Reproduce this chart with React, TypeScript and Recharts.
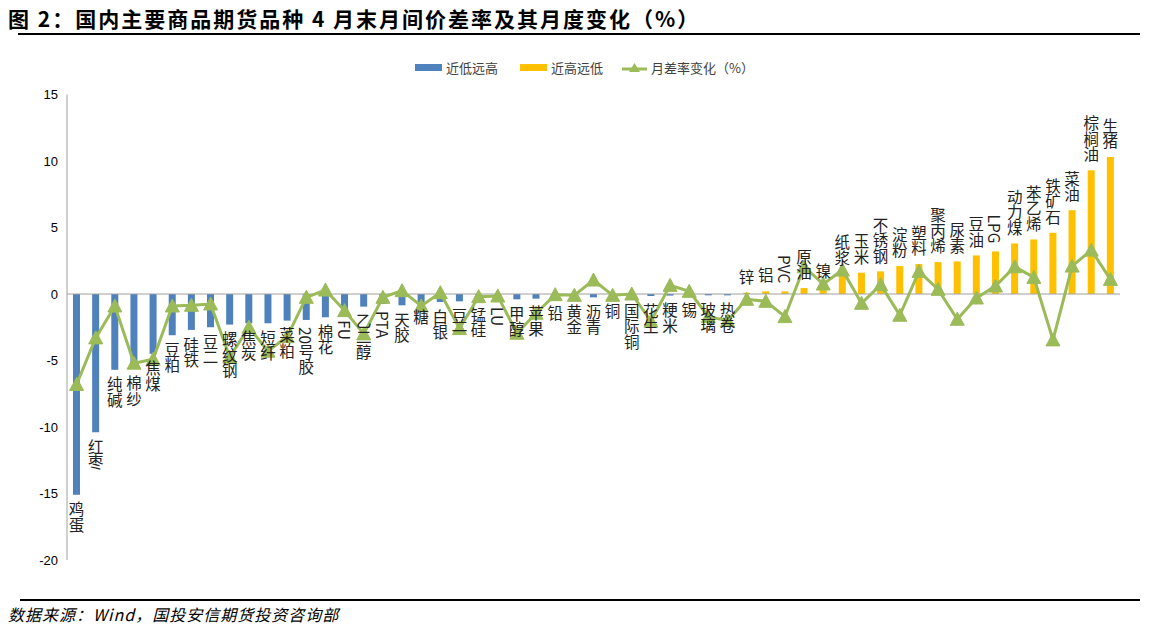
import React from 'react';
import {
  ComposedChart,
  Bar,
  Line,
  XAxis,
  YAxis,
  Legend,
  LabelList,
  ReferenceLine,
} from 'recharts';

const categories = [
  '鸡蛋', '红枣', '纯碱', '棉纱', '焦煤', '豆粕', '硅铁', '豆二', '螺纹钢', '焦炭',
  '短纤', '菜粕', '20号胶', '棉花', 'FU', '乙二醇', 'PTA', '天胶', '糖', '白银',
  '豆一', '锰硅', 'LU', '甲醇', '苹果', '铅', '黄金', '沥青', '铜', '国际铜',
  '花生', '粳米', '锡', '玻璃', '热卷', '锌', '铝', 'PVC', '原油', '镍',
  '纸浆', '玉米', '不锈钢', '淀粉', '塑料', '聚丙烯', '尿素', '豆油', 'LPG', '动力煤',
  '苯乙烯', '铁矿石', '菜油', '棕榈油', '生猪',
];

const spreadRate = [
  -15.1, -10.4, -5.7, -5.6, -4.5, -3.1, -2.7, -2.5, -2.3, -2.2,
  -2.2, -2.0, -1.95, -1.75, -1.45, -0.95, -0.75, -0.85, -0.65, -0.6,
  -0.55, -0.45, -0.45, -0.4, -0.35, -0.3, -0.25, -0.25, -0.2, -0.15,
  -0.15, -0.12, -0.1, -0.1, -0.1, 0.1, 0.2, 0.2, 0.45, 0.5,
  1.55, 1.6, 1.7, 2.1, 2.25, 2.4, 2.45, 2.9, 3.2, 3.8,
  4.1, 4.6, 6.3, 9.3, 10.3,
];

const monthlyChange = [
  -6.8, -3.3, -0.9, -5.2, -4.9, -0.9, -0.85, -0.75, -4.75, -2.5,
  -4.3, -3.2, -0.25, 0.3, -1.25, -3.0, -0.25, 0.25, -0.9, 0.1,
  -2.6, -0.2, -0.15, -2.95, -1.45, -0.05, -0.1, 1.05, -0.1, 0.0,
  -2.05, 0.65, 0.2, -1.7, -2.0, -0.4, -0.55, -1.7, 2.05, 0.75,
  1.8, -0.7, 0.7, -1.6, 1.7, 0.35, -1.9, -0.3, 0.6, 2.05,
  1.25, -3.45, 2.1, 3.3, 1.1,
];

const yTicks = [-20, -15, -10, -5, 0, 5, 10, 15];

const seriesNames = ['近低远高', '近高远低', '月差率变化（%）'];

const data = categories.map((name, i) => ({
  name,
  neg: spreadRate[i] < 0 ? spreadRate[i] : null,
  pos: spreadRate[i] > 0 ? spreadRate[i] : null,
  negName: spreadRate[i] < 0 ? name : '',
  posName: spreadRate[i] > 0 ? name : '',
  change: monthlyChange[i],
}));

const BLUE = '#4F81BD';
const YELLOW = '#FFC000';
const GREEN = '#9BBB59';
const LABEL_FONT = '"Noto Sans CJK SC", "Noto Sans", sans-serif';

const makeLabel = (positive: boolean) => (props: any) => {
  const { x, y, width, height, value } = props;
  if (!value) return null;
  const top = Math.min(y, y + height);
  const bottom = Math.max(y, y + height);
  const cx = x + width / 2;
  return (
    <text
      x={cx}
      y={positive ? top - 8 : bottom + 7}
      textAnchor={positive ? 'end' : 'start'}
      fill="#222"
      fontSize={15.5}
      fontFamily={LABEL_FONT}
      style={{ writingMode: 'vertical-rl' } as any}
    >
      {value}
    </text>
  );
};

const Triangle = (props: any) => {
  const { cx, cy } = props;
  if (cx == null || cy == null) return null;
  const w = 7;
  const h = 12;
  return (
    <polygon
      points={`${cx},${cy - h / 2 - 1} ${cx - w},${cy + h / 2} ${cx + w},${cy + h / 2}`}
      fill={GREEN}
      stroke={GREEN}
    />
  );
};

const LegendContent = () => (
  <div
    style={{
      display: 'flex',
      alignItems: 'center',
      fontFamily: LABEL_FONT,
      fontSize: 13,
      color: '#404040',
      whiteSpace: 'nowrap',
    }}
  >
    <span style={{ display: 'inline-block', width: 27, height: 7, background: BLUE, marginRight: 4 }} />
    <span style={{ marginRight: 22 }}>{seriesNames[0]}</span>
    <span style={{ display: 'inline-block', width: 27, height: 7, background: YELLOW, marginRight: 4 }} />
    <span style={{ marginRight: 19 }}>{seriesNames[1]}</span>
    <svg width={25} height={14} style={{ marginRight: 4 }}>
      <line x1={0} y1={8} x2={25} y2={8} stroke={GREEN} strokeWidth={3} />
      <polygon points="12.5,2 7,11 18,11" fill={GREEN} />
    </svg>
    <span>{seriesNames[2]}</span>
  </div>
);

export default function App() {
  return (
    <div
      style={{
        position: 'absolute',
        left: 0,
        top: 0,
        width: 1149,
        height: 629,
        background: '#fff',
        overflow: 'hidden',
      }}
    >
      <div
        style={{
          position: 'absolute',
          left: 8,
          top: 5,
          fontFamily: LABEL_FONT,
          fontWeight: 700,
          fontSize: 21,
          letterSpacing: 2,
          color: '#000',
          whiteSpace: 'nowrap',
          lineHeight: '26px',
        }}
      >
        图 2：国内主要商品期货品种 4 月末月间价差率及其月度变化（%）
      </div>
      <div style={{ position: 'absolute', left: 18, top: 33, width: 1122, height: 2, background: '#000' }} />
      <div style={{ position: 'absolute', left: 20, top: 599, width: 1120, height: 1.5, background: '#000' }} />
      <div
        style={{
          position: 'absolute',
          left: 8,
          top: 603,
          fontFamily: LABEL_FONT,
          fontStyle: 'italic',
          fontSize: 16,
          letterSpacing: 1,
          color: '#000',
          whiteSpace: 'nowrap',
          lineHeight: '22px',
        }}
      >
        数据来源：Wind，国投安信期货投资咨询部
      </div>
      <div style={{ position: 'absolute', left: 0, top: 0 }}>
        <ComposedChart
          width={1149}
          height={629}
          data={data}
          stackOffset="sign"
          margin={{ top: 94.5, right: 29, bottom: 69, left: 0 }}
        >
          <XAxis dataKey="name" hide />
          <YAxis
            width={67}
            domain={[-20, 15]}
            ticks={yTicks}
            interval={0}
            tickLine={false}
            tickSize={6}
            tickMargin={3}
            axisLine={{ stroke: '#A0A0A0', strokeWidth: 1 }}
            tick={{ fill: '#000', fontSize: 13, fontFamily: '"Liberation Sans", Arial, sans-serif' }}
          />
          <ReferenceLine y={0} stroke="#A0A0A0" strokeWidth={1} />
          <Legend
            verticalAlign="middle"
            align="center"
            layout="horizontal"
            wrapperStyle={{ top: 58, left: 415, width: 400, height: 20 }}
            content={<LegendContent />}
          />
          <Bar dataKey="neg" name={seriesNames[0]} stackId="s" fill={BLUE} barSize={7} isAnimationActive={false}>
            <LabelList dataKey="negName" content={makeLabel(false)} />
          </Bar>
          <Bar dataKey="pos" name={seriesNames[1]} stackId="s" fill={YELLOW} barSize={7} isAnimationActive={false}>
            <LabelList dataKey="posName" content={makeLabel(true)} />
          </Bar>
          <Line
            dataKey="change"
            name={seriesNames[2]}
            stroke={GREEN}
            strokeWidth={3}
            dot={<Triangle />}
            activeDot={false}
            isAnimationActive={false}
          />
        </ComposedChart>
      </div>
    </div>
  );
}
